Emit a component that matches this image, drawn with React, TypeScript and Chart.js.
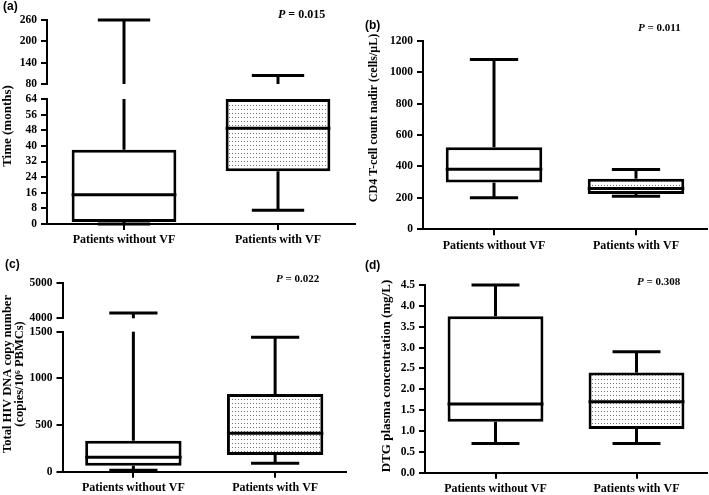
import React, { useEffect, useRef } from "react";
import { Chart, registerables } from "chart.js";

Chart.register(...registerables);

const SERIF = "'Liberation Serif', 'Times New Roman', serif";
const SANS = "'Liberation Sans', Arial, sans-serif";

const categories = ["Patients without VF", "Patients with VF"];

// Five-number summaries: [min, Q1, median, Q3, max]
const timeWithoutVF = [0, 1, 15, 38, 260];
const timeWithVF = [7, 27, 49, 64, 104];
const cd4WithoutVF = [200, 297, 382, 522, 1080];
const cd4WithVF = [210, 225, 260, 322, 380];
const dnaWithoutVF = [15, 64, 154, 332, 4150];
const dnaWithVF = [90, 179, 411, 832, 1440];
const dtgWithoutVF = [0.7, 1.22, 1.65, 3.75, 4.5];
const dtgWithVF = [0.7, 1.05, 1.7, 2.4, 2.9];

// Tick labels (upper / lower parts of broken axes)
const timeTicksUpper = [80, 140, 200, 260];
const timeTicksLower = [0, 8, 16, 24, 32, 40, 48, 56, 64];
const cd4Ticks = [0, 200, 400, 600, 800, 1000, 1200];
const dnaTicksUpper = [4000, 5000];
const dnaTicksLower = [0, 500, 1000, 1500];
const dtgTicks = [0, 0.5, 1, 1.5, 2, 2.5, 3, 3.5, 4, 4.5];

const panelLabels = ["(a)", "(b)", "(c)", "(d)"];
const pValues = ["0.015", "0.011", "0.022", "0.308"];
const yTitles = [
  ["Time (months)"],
  ["CD4 T-cell count nadir (cells/\u03bcL)"],
  ["Total HIV DNA copy number", "(copies/10\u2076 PBMCs)"],
  ["DTG plasma concentration (mg/L)"],
];

type Seg = { ticks: number[]; weight: number };
type PanelCfg = {
  label: string;
  p: string;
  left: number;
  top: number;
  w: number;
  h: number;
  area: { l: number; r: number; t: number; b: number };
  segs: Seg[];
  gaps: number[];
  stats: number[][];
  title: string[];
  titleX: number;
  titleY: number;
  titleSize: number;
  titleLineH: number;
  labelPos: [number, number];
  pPos: [number, number];
  pSize: number;
  fmt: (v: number) => string;
};

const plain = (v: number) => String(v);
const oneDec = (v: number) => v.toFixed(1);

const panels: PanelCfg[] = [
  {
    label: panelLabels[0], p: pValues[0], left: 0, top: 0, w: 360, h: 250,
    area: { l: 47, r: 355, t: 20, b: 224 },
    segs: [{ ticks: timeTicksUpper, weight: 64 }, { ticks: timeTicksLower, weight: 125 }],
    gaps: [15],
    stats: [timeWithoutVF, timeWithVF],
    title: yTitles[0], titleX: 8, titleY: 126, titleSize: 13, titleLineH: 12,
    labelPos: [3, 7], pPos: [278, 15], pSize: 12, fmt: plain,
  },
  {
    label: panelLabels[1], p: pValues[1], left: 360, top: 0, w: 349, h: 250,
    area: { l: 63, r: 347, t: 40.7, b: 229.3 },
    segs: [{ ticks: cd4Ticks, weight: 1 }],
    gaps: [],
    stats: [cd4WithoutVF, cd4WithVF],
    title: yTitles[1], titleX: 14, titleY: 118, titleSize: 12, titleLineH: 12,
    labelPos: [5, 26], pPos: [278, 28], pSize: 11, fmt: plain,
  },
  {
    label: panelLabels[2], p: pValues[2], left: 0, top: 250, w: 360, h: 245,
    area: { l: 62.5, r: 346, t: 33.3, b: 221.7 },
    segs: [{ ticks: dnaTicksUpper, weight: 35 }, { ticks: dnaTicksLower, weight: 140 }],
    gaps: [13.4],
    stats: [dnaWithoutVF, dnaWithVF],
    title: yTitles[2], titleX: 7.5, titleY: 124, titleSize: 12.5, titleLineH: 12,
    labelPos: [5, 15], pPos: [276, 29.5], pSize: 11, fmt: plain,
  },
  {
    label: panelLabels[3], p: pValues[3], left: 360, top: 250, w: 349, h: 245,
    area: { l: 65, r: 347, t: 35, b: 222.7 },
    segs: [{ ticks: dtgTicks, weight: 1 }],
    gaps: [],
    stats: [dtgWithoutVF, dtgWithVF],
    title: yTitles[3], titleX: 27, titleY: 126, titleSize: 13, titleLineH: 12,
    labelPos: [5, 15.5], pPos: [277, 32], pSize: 11, fmt: oneDec,
  },
];

function makeDots(): CanvasPattern | string {
  const c = document.createElement("canvas");
  c.width = 3;
  c.height = 4;
  const g = c.getContext("2d");
  if (!g) return "#eee";
  g.fillStyle = "#fff";
  g.fillRect(0, 0, 3, 4);
  g.fillStyle = "#6e6e6e";
  g.fillRect(1, 1, 1, 1);
  return g.createPattern(c, "repeat") || "#eee";
}

function buildChart(canvas: HTMLCanvasElement, pn: PanelCfg) {
  const n = pn.segs.length;
  const order: { id: string; seg?: Seg; gap?: number }[] = [];
  pn.segs.forEach((s, i) => {
    order.push({ id: "y" + i, seg: s });
    if (i < n - 1) order.push({ id: "gap" + i, gap: pn.gaps[i] });
  });
  const total = order.length;
  const yScales: any = {};
  const segIds: string[] = [];
  order.forEach((o, k) => {
    const common: any = {
      position: "left",
      weight: total - k,
      afterFit: (sc: any) => {
        sc.width = pn.area.l;
      },
    };
    if (n > 1) {
      common.stack = "left";
      common.stackWeight = o.seg ? o.seg.weight : o.gap;
    }
    if (o.seg) {
      const t = o.seg.ticks;
      segIds.push(o.id);
      yScales[o.id] = {
        ...common,
        type: "linear",
        min: t[0],
        max: t[t.length - 1],
        afterBuildTicks: (sc: any) => {
          sc.ticks = t.map((v) => ({ value: v }));
        },
        grid: { drawOnChartArea: false, drawTicks: true, tickLength: 6, color: "#000", lineWidth: 2 },
        border: { display: true, color: "#000", width: 2 },
        ticks: {
          color: "#000",
          autoSkip: false,
          padding: 4,
          font: { family: SERIF, size: 11.5, weight: "bold" },
          callback: (v: any) => pn.fmt(Number(v)),
        },
      };
    } else {
      yScales[o.id] = {
        ...common,
        type: "linear",
        min: 0,
        max: 1,
        grid: { display: false },
        border: { display: false },
        ticks: { display: false },
      };
    }
  });

  // which axis segment holds the boxes
  let barSeg = segIds.length - 1;
  pn.segs.forEach((s, i) => {
    const lo = s.ticks[0];
    const hi = s.ticks[s.ticks.length - 1];
    if (pn.stats.every((st) => st[1] >= lo && st[3] <= hi)) barSeg = i;
  });

  const boxPlugin = {
    id: "boxWhiskers",
    afterDatasetsDraw(chart: any) {
      const ctx = chart.ctx as CanvasRenderingContext2D;
      const meta = chart.getDatasetMeta(0);
      ctx.save();
      ctx.strokeStyle = "#000";
      ctx.lineWidth = 3;
      ctx.lineCap = "butt";
      const line = (x1: number, y1: number, x2: number, y2: number) => {
        ctx.beginPath();
        ctx.moveTo(x1, y1);
        ctx.lineTo(x2, y2);
        ctx.stroke();
      };
      pn.stats.forEach((s, i) => {
        const [mn, q1, md, q3, mx] = s;
        const bar = meta.data[i];
        const x = bar.x;
        const bw = bar.width;
        const cap = bw * 0.5;
        segIds.forEach((id) => {
          const sc = chart.scales[id];
          const lo = sc.min;
          const hi = sc.max;
          const px = (v: number) => sc.getPixelForValue(v);
          const seg = (a: number, b: number) => {
            const a2 = Math.max(a, lo);
            const b2 = Math.min(b, hi);
            if (a2 < b2) line(x, px(a2), x, px(b2));
          };
          seg(q3, mx);
          seg(mn, q1);
          if (mx >= lo && mx <= hi) line(x - cap / 2, px(mx), x + cap / 2, px(mx));
          if (mn >= lo && mn <= hi) line(x - cap / 2, px(mn), x + cap / 2, px(mn));
          if (md >= lo && md <= hi) line(x - bw / 2, px(md), x + bw / 2, px(md));
        });
      });
      ctx.restore();
    },
  };

  const textPlugin = {
    id: "panelTexts",
    afterDraw(chart: any) {
      const ctx = chart.ctx as CanvasRenderingContext2D;
      ctx.save();
      ctx.fillStyle = "#000";
      // panel label
      ctx.font = `bold 12px ${SANS}`;
      ctx.textAlign = "left";
      ctx.textBaseline = "middle";
      ctx.fillText(pn.label, pn.labelPos[0], pn.labelPos[1]);
      // P value
      ctx.font = `italic bold ${pn.pSize}px ${SERIF}`;
      ctx.fillText("P", pn.pPos[0], pn.pPos[1]);
      const pw = ctx.measureText("P").width;
      ctx.font = `bold ${pn.pSize}px ${SERIF}`;
      ctx.fillText(" = " + pn.p, pn.pPos[0] + pw, pn.pPos[1]);
      // y-axis title
      ctx.font = `bold ${pn.titleSize}px ${SERIF}`;
      ctx.translate(pn.titleX, pn.titleY);
      ctx.rotate(-Math.PI / 2);
      ctx.textAlign = "center";
      pn.title.forEach((ln, k) => ctx.fillText(ln, 0, k * pn.titleLineH));
      ctx.restore();
    },
  };

  const config: any = {
    type: "bar",
    data: {
      labels: categories,
      datasets: [
        {
          data: pn.stats.map((s) => [s[1], s[3]]),
          yAxisID: "y" + barSeg,
          backgroundColor: ["#ffffff", makeDots()],
          borderColor: "#000",
          borderWidth: 3,
          borderSkipped: false,
          barPercentage: 0.68,
          categoryPercentage: 1,
          clip: false,
        },
      ],
    },
    options: {
      animation: false,
      responsive: false,
      events: [],
      layout: {
        autoPadding: false,
        padding: { left: 0, top: pn.area.t, right: pn.w - pn.area.r, bottom: 0 },
      },
      plugins: {
        legend: { display: false },
        tooltip: { enabled: false },
        title: { display: false },
      },
      scales: {
        x: {
          type: "category",
          offset: true,
          afterFit: (sc: any) => {
            sc.height = pn.h - pn.area.b;
          },
          grid: { drawOnChartArea: false, offset: false, tickLength: 6, color: "#000", lineWidth: 2 },
          border: { display: true, color: "#000", width: 2 },
          ticks: {
            color: "#000",
            autoSkip: false,
            maxRotation: 0,
            padding: 3,
            font: { family: SERIF, size: 12, weight: "bold" },
          },
        },
        ...yScales,
      },
    },
    plugins: [boxPlugin, textPlugin],
  };
  return new Chart(canvas, config);
}

function Panel({ pn }: { pn: PanelCfg }) {
  const ref = useRef<HTMLCanvasElement>(null);
  useEffect(() => {
    if (!ref.current) return;
    const chart = buildChart(ref.current, pn);
    return () => chart.destroy();
  }, [pn]);
  return (
    <canvas
      ref={ref}
      width={pn.w}
      height={pn.h}
      style={{ position: "absolute", left: pn.left, top: pn.top, width: pn.w, height: pn.h }}
    />
  );
}

export default function App() {
  return (
    <div
      style={{
        position: "fixed",
        left: 0,
        top: 0,
        width: 709,
        height: 495,
        background: "#fff",
        overflow: "hidden",
      }}
    >
      {panels.map((p) => (
        <Panel key={p.label} pn={p} />
      ))}
    </div>
  );
}
